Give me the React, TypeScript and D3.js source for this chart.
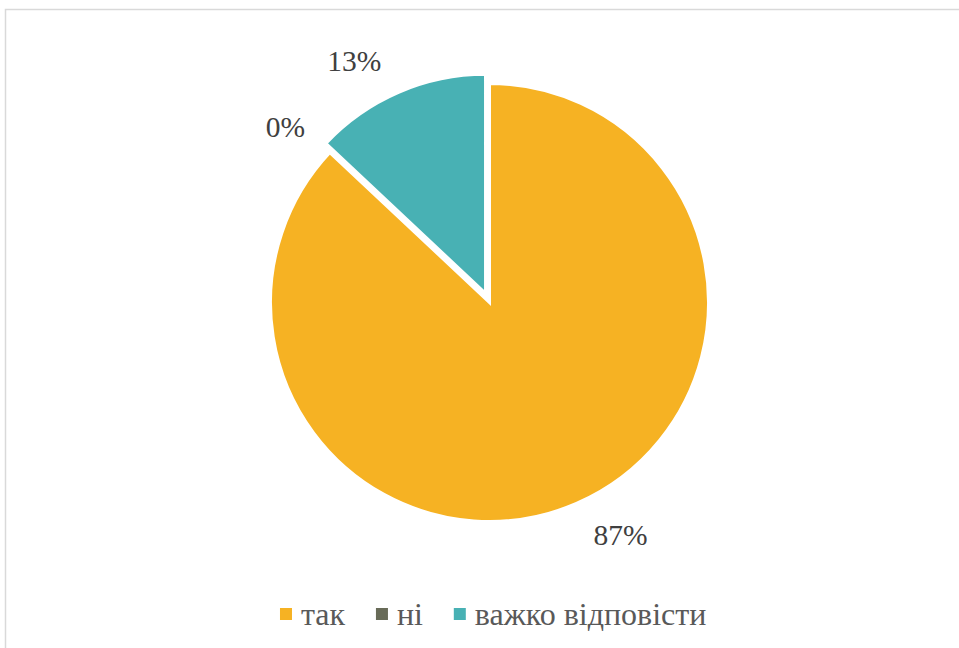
import React from "react";
import * as d3 from "d3";

const categories = ["так", "ні", "важко відповісти"];
const values = [87, 0, 13];
const labels = ["87%", "0%", "13%"];
const colors = ["#F6B223", "#686B58", "#48B1B4"];
const exploded = [false, false, true];

const FONT = '"Liberation Serif"';
const BASE = 36;

const ADV: Record<string, number> = {
  "0": 0.5, "1": 0.5, "3": 0.5, "7": 0.5, "8": 0.5, "%": 0.833, " ": 0.25,
  "а": 0.444, "в": 0.472, "ж": 0.698, "к": 0.49, "о": 0.5, "і": 0.278,
  "д": 0.52, "п": 0.53, "с": 0.444, "т": 0.44, "н": 0.53,
};
const textWidth = (s: string, size: number) =>
  Array.from(s).reduce((w, ch) => w + (ADV[ch] ?? 0.5), 0) * size;

function SText(props: { x: number; y: number; size: number; fill: string; anchor?: string; children: string }) {
  const k = props.size / BASE;
  return (
    <text transform={`translate(${props.x},${props.y}) scale(${k})`} x={0} y={0}
      textAnchor={props.anchor || "start"} fill={props.fill} fontSize={BASE}
      style={{ fontFamily: FONT }}>
      {props.children}
    </text>
  );
}

export default function App() {
  const cx = 489.5, cy = 302.5, R = 219;
  const fs = 29.5, fsL = 32, sq = 12, gapText = 9, gapItem = 31;

  const arcs = d3.pie<number>().sort(null).value((d) => d)(values);
  const arc = d3.arc<d3.PieArcDatum<number>>().innerRadius(0).outerRadius(R);

  const slices = arcs.map((a, i) => {
    const mid = (a.startAngle + a.endAngle) / 2;
    const off = exploded[i] ? 10 : 0;
    const ox = Math.sin(mid) * off, oy = -Math.cos(mid) * off;
    const hw = textWidth(labels[i], fs) / 2, hh = fs * 0.34;
    const dx = Math.sin(mid), dy = -Math.cos(mid);
    const rr = R + 23;
    const lx = ox + dx * rr + Math.sign(dx) * (hw + 8);
    const ly = oy + dy * rr + Math.sign(dy) * hh;
    return { a, i, ox, oy, lx, ly };
  });

  const widths = categories.map((c) => textWidth(c, fsL));
  const total = widths.reduce((s, w) => s + sq + gapText + w, 0) + gapItem * (categories.length - 1);
  let xCur = 494 - total / 2;
  const legend = categories.map((c, i) => {
    const x = xCur;
    xCur += sq + gapText + widths[i] + gapItem;
    return { c, i, x };
  });

  return (
    <svg width={959} height={648} style={{ position: "absolute", left: 0, top: 0, background: "white" }}>
      <rect x={5.5} y={9.5} width={1000} height={1000} fill="white" stroke="#d9d9d9" strokeWidth={1.5} />
      <g transform={`translate(${cx},${cy})`}>
        {slices.map((s) =>
          s.a.endAngle - s.a.startAngle > 0 ? (
            <path key={"p" + s.i} d={arc(s.a) as string} transform={`translate(${s.ox},${s.oy})`}
              fill={colors[s.i]} stroke="white" strokeWidth={3} />
          ) : null
        )}
      </g>
      {slices.map((s) => (
        <SText key={"t" + s.i} x={cx + s.lx} y={cy + s.ly + fs * 0.338} size={fs} fill="#404040" anchor="middle">
          {labels[s.i]}
        </SText>
      ))}
      {legend.map((l) => (
        <g key={"l" + l.i}>
          <rect x={l.x} y={608} width={sq} height={sq} fill={colors[l.i]} />
          <SText x={l.x + sq + gapText} y={625} size={fsL} fill="#595959">
            {l.c}
          </SText>
        </g>
      ))}
    </svg>
  );
}
